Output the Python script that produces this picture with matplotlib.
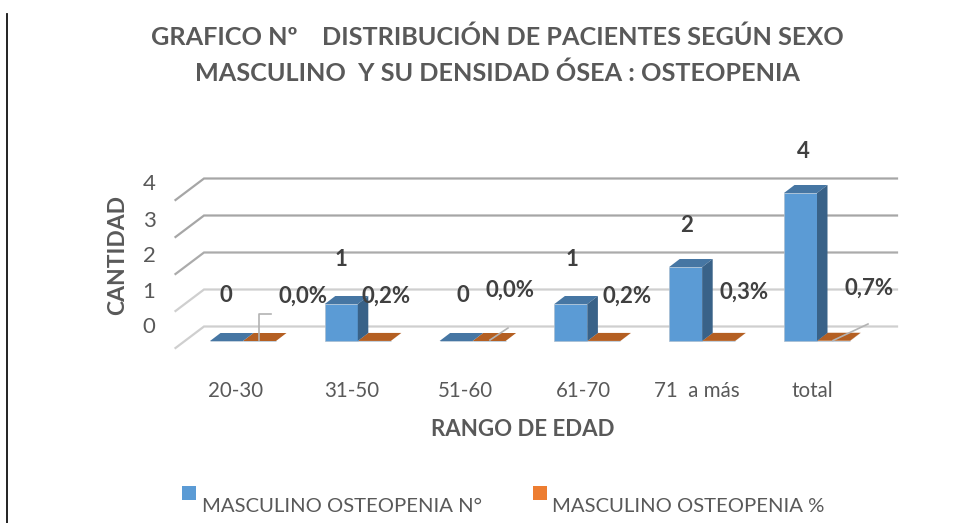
import matplotlib
matplotlib.use('Agg')
import matplotlib.pyplot as plt
from matplotlib.patches import Polygon, Rectangle

plt.rcParams['font.family'] = ['Lato', 'DejaVu Sans']

# Data
categories = ['20-30', '31-50', '51-60', '61-70', '71  a más', 'total']
counts = [0, 1, 0, 1, 2, 4]
percents = [0.0, 0.002, 0.0, 0.002, 0.003, 0.007]
count_labels = ['0', '1', '0', '1', '2', '4']
percent_labels = ['0,0%', '0,2%', '0,0%', '0,2%', '0,3%', '0,7%']
yticks = [0, 1, 2, 3, 4]
title = 'GRAFICO Nº    DISTRIBUCIÓN DE PACIENTES SEGÚN SEXO\nMASCULINO  Y SU DENSIDAD ÓSEA : OSTEOPENIA'

W, H = 976, 523
X0, XSTEP = 243.0, 114.8   # pixel of category 0, pixels per category
Y0, YSTEP = 341.0, 37.0    # pixel of value 0 at the bar front, pixels per unit
BAR_W = 33 / XSTEP
DX, DY = 10.5 / XSTEP, 8 / YSTEP   # bar depth


def px(x):
    return (x - X0) / XSTEP


def py(y):
    return (Y0 - y) / YSTEP


fig = plt.figure(figsize=(W / 100, H / 100), dpi=100)
ax = fig.add_axes([0, 0, 1, 1])
ax.set_xlim(px(0), px(W))
ax.set_ylim(py(H), py(0))
ax.axis('off')

# left border of the page
ax.plot([px(7.5), px(7.5)], [py(14), py(H)], color='#111111', lw=1.3)

# walls: back gridlines and the slanted lines on the left
grid_colors = ['#cfcfcf', '#cfcfcf', '#ababab', '#a6a6a6', '#a6a6a6']
for t, c in zip(yticks, grid_colors):
    back = t + py(326.5)
    front = t + py(348)
    ax.plot([px(175.5), px(204), px(897)], [front, back, back], color=c, lw=1.6,
            solid_joinstyle='miter', zorder=1)


def bar3d(xc, h, front, top, side):
    ax.bar(xc, h, BAR_W, align='edge', color=front, edgecolor='#a9bdd0', lw=0.5, zorder=3)
    x1 = xc + BAR_W
    ax.add_patch(Polygon([(xc, h), (x1, h), (x1 + DX, h + DY), (xc + DX, h + DY)],
                         color=top, lw=0, zorder=3))
    ax.add_patch(Polygon([(x1, 0), (x1 + DX, DY), (x1 + DX, h + DY), (x1, h)],
                         color=side, lw=0, zorder=3))


for i, p in enumerate(percents):
    bar3d(i, p, '#ED7D31', '#B45F22', '#9E5320')
for i, n in enumerate(counts):
    bar3d(i - BAR_W, n, '#5B9BD5', '#4676A3', '#396288')

# leader lines
lead = '#b3b3b3'
ax.plot([px(259), px(259), px(271)], [py(340), py(314), py(314)], color=lead, lw=1.2, zorder=4)
ax.plot([px(490), px(508)], [py(340), py(328)], color=lead, lw=1.2, zorder=4)
ax.plot([px(833), px(868)], [py(340.5), py(324)], color=lead, lw=1.2, zorder=4)

# data labels, offset in pixels from each bar top
count_off = [(-17, 45), (-17, 44), (-10, 45), (-15, 44), (-16, 41), (-14, 42)]
pct_off = [(60, 45), (28, 45), (37, 51), (40, 45), (42, 49), (52, 53)]
lab_style = dict(textcoords='offset pixels', ha='center', va='center', fontsize=16,
                 fontweight='bold', color='#404040', zorder=5)
for i in range(len(categories)):
    ax.annotate(count_labels[i], (i, counts[i]), xytext=count_off[i], **lab_style)
    ax.annotate(percent_labels[i], (i, percents[i]), xytext=pct_off[i], **lab_style)

# tick labels
tick_y = [327, 292, 256, 221, 184]
for t, y in zip(yticks, tick_y):
    ax.text(px(149), py(y), str(t), ha='center', va='center', fontsize=16, color='#595959')
cat_off = [-7.5, -6, -7, -4, -5, -5]
for i, c in enumerate(categories):
    ax.annotate(c, (i, 0), xytext=(cat_off[i], -50), textcoords='offset pixels',
                ha='center', va='center', fontsize=14.8, color='#595959')

ax.text(px(497), py(55), title, ha='center', va='center', fontsize=18.2, fontweight='bold',
        color='#595959', linespacing=1.66)
ax.text(px(523), py(430), 'RANGO DE EDAD', ha='center', va='center', fontsize=16,
        fontweight='bold', color='#595959')
ax.text(px(118), py(255), 'CANTIDAD', ha='center', va='center', rotation=90, fontsize=16.5,
        fontweight='bold', color='#595959')

# legend
for x, col, lab in [(182, '#5B9BD5', 'MASCULINO OSTEOPENIA N°'), (532.5, '#ED7D31', 'MASCULINO OSTEOPENIA %')]:
    ax.add_patch(Rectangle((px(x), py(500)), 14 / XSTEP, 14 / YSTEP, color=col, lw=0))
    ax.text(px(x + 20), py(507), lab, ha='left', va='center', fontsize=14.6, color='#595959')

fig.savefig('out.png', dpi=100)
